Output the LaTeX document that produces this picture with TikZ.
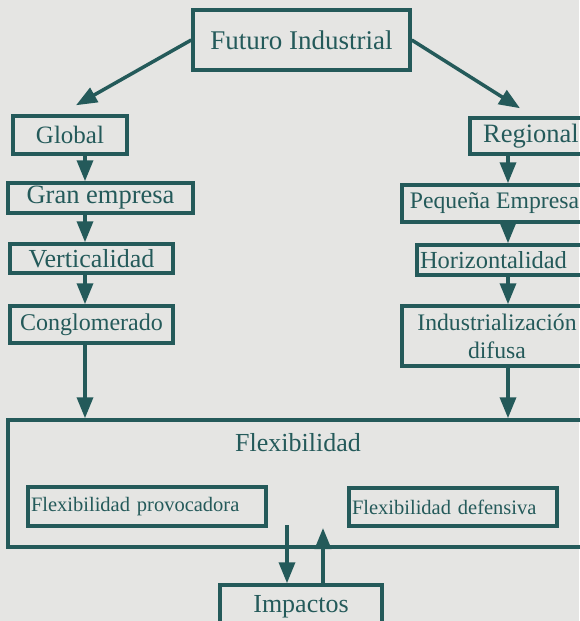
\documentclass[tikz,border=0pt]{standalone}
\usepackage{fontspec}
\setmainfont{Liberation Serif}
\usetikzlibrary{arrows.meta}
\definecolor{ink}{RGB}{36,90,90}
\definecolor{paper}{RGB}{229,229,227}
\begin{document}
\begin{tikzpicture}[x=1pt, y=-1pt,
  every node/.style = {shape=rectangle, draw=ink, line width=3.5pt,
    text=ink, inner sep=3pt, font=\fontsize{25}{28}\selectfont},
  arr/.style = {draw=ink, line width=3.5pt, -{Triangle[length=21pt,width=16pt]}},
  flexbox/.style = {align=left, text width=#1, font=\fontsize{20.5}{24}\selectfont}]
  \fill[paper] (0,0) rectangle (579,621);
  \useasboundingbox (0,0) rectangle (579,621);
  \coordinate (lcol) at (85,0);
  \coordinate (rcol) at (508,0);
  \node[minimum width=217pt, minimum height=60pt, font=\fontsize{27}{30}\selectfont]
    (futuro) at (301.5,40) {Futuro Industrial};
  % left column
  \node[minimum width=114pt, minimum height=38pt] (global) at (70,135) {Global};
  \node[minimum width=185pt, minimum height=30pt, font=\fontsize{26.5}{30}\selectfont]
    (gran) at (100.5,198) {Gran empresa};
  \node[minimum width=163pt, minimum height=29pt, font=\fontsize{26}{30}\selectfont]
    (vert) at (91.5,258.5) {Verticalidad};
  \node[minimum width=163pt, minimum height=37pt, font=\fontsize{24}{28}\selectfont]
    (cong) at (91.5,324.5) {Conglomerado};
  % right column
  \node[minimum width=122pt, minimum height=36pt, font=\fontsize{26.5}{30}\selectfont]
    (regional) at (531,136) {Regional};
  \node[minimum width=185pt, minimum height=37pt, font=\fontsize{23.7}{28}\selectfont]
    (pequena) at (494.5,203.5) {Pequeña Empresa};
  \node[minimum height=30pt, align=left, text width=175pt, font=\fontsize{24.5}{28}\selectfont]
    (horiz) at (507.5,260) {Horizontalidad};
  \node[minimum width=190pt, minimum height=60pt, align=center,
    font=\fontsize{23.7}{28}\selectfont]
    (indus) at (497,336) {Industrialización\\difusa};
  % flexibilidad
  \node[minimum width=600pt, minimum height=127pt] (flex) at (308,483.5) {};
  \node[draw=none, font=\fontsize{26}{30}\selectfont] (flextitle) at (298,443) {Flexibilidad};
  \node[flexbox=232pt, minimum height=39pt] (provoc) at (147,506.5) {Flexibilidad provocadora};
  \node[flexbox=202pt, minimum height=38pt] (defens) at (453,507) {Flexibilidad defensiva};
  \node[minimum width=162pt, minimum height=44pt, font=\fontsize{26}{30}\selectfont]
    (impactos) at (301,607) {Impactos};
  \coordinate (down0) at (287,525);
  \coordinate (up0) at (323,528);
  % connectors
  \draw[arr] (futuro.west) -- ([shift={(6,-9)}]global.north);
  \draw[arr] (futuro.east) -- ([shift={(-11,-8)}]regional.north);
  \draw[arr] (global.south -| lcol) -- (gran.north -| lcol);
  \draw[arr] (gran.south -| lcol) -- (vert.north -| lcol);
  \draw[arr] (vert.south -| lcol) -- (cong.north -| lcol);
  \draw[arr] (cong.south -| lcol) -- (flex.north -| lcol);
  \draw[arr] (regional.south -| rcol) -- (pequena.north -| rcol);
  \draw[arr] (pequena.south -| rcol) -- (horiz.north -| rcol);
  \draw[arr] (horiz.south -| rcol) -- (indus.north -| rcol);
  \draw[arr] (indus.south -| rcol) -- (flex.north -| rcol);
  \draw[arr] (down0) -- (impactos.north -| down0);
  \draw[arr] (impactos.north -| up0) -- (up0);
\end{tikzpicture}
\end{document}
